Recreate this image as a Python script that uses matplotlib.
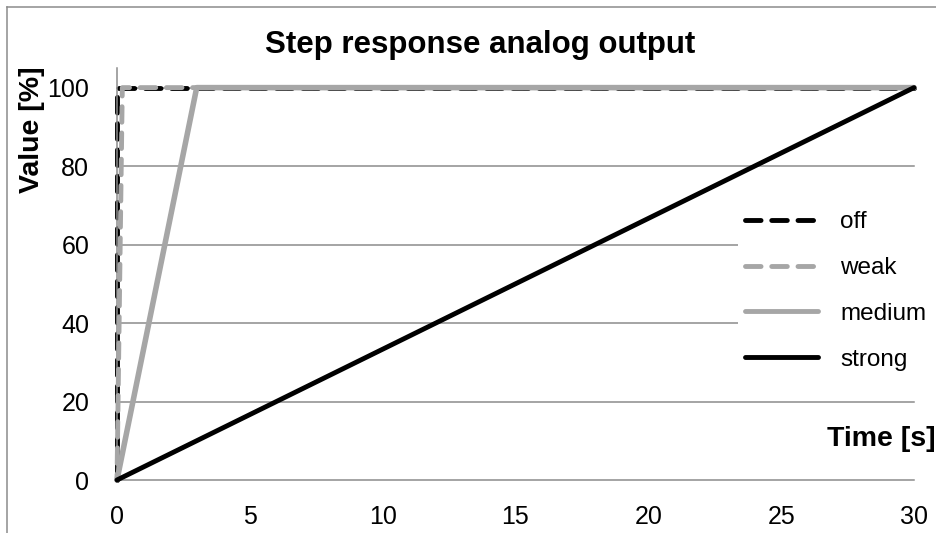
import matplotlib
matplotlib.use("Agg")
import matplotlib.pyplot as plt
from matplotlib.lines import Line2D

plt.rcParams['font.family'] = ['Liberation Sans', 'DejaVu Sans']

# Data
title = "Step response analog output"
x_label = "Time [s]"
y_label = "Value [%]"
series_names = ["off", "weak", "medium", "strong"]
off_t = [0, 0, 30]
off_v = [0, 100, 100]
weak_t = [0, 0.2, 30]
weak_v = [0, 100, 100]
medium_t = [0, 3, 30]
medium_v = [0, 100, 100]
strong_t = [0, 30]
strong_v = [0, 100]
x_ticks = [0, 5, 10, 15, 20, 25, 30]
y_ticks = [0, 20, 40, 60, 80, 100]

W, H = 937, 533
fig = plt.figure(figsize=(W / 100, H / 100), dpi=100)
ax = fig.add_axes([117 / W, 53 / H, (914 - 117) / W, (465 - 53) / H])

black = "#000000"
gray = "#A6A6A6"
grid_gray = "#8C8C8C"
lw = 3.5

for yv in y_ticks:
    ax.axhline(yv, color=grid_gray, lw=1.1, zorder=1, clip_on=False)

ax.plot(off_t, off_v, color=black, lw=lw, linestyle=(0, (3.2, 2.2)), dash_capstyle='round',
        label=series_names[0], zorder=2, clip_on=False)
ax.plot(weak_t, weak_v, color=gray, lw=lw, linestyle=(2.0, (3.2, 2.2)), dash_capstyle='round',
        label=series_names[1], zorder=3, clip_on=False)
ax.plot(medium_t, medium_v, color=gray, lw=4.0, solid_capstyle='round',
        label=series_names[2], zorder=4, clip_on=False)
ax.plot(strong_t, strong_v, color=black, lw=lw, solid_capstyle='round',
        label=series_names[3], zorder=5, clip_on=False)

ax.set_xlim(0, 30)
ax.set_ylim(0, 105)
ax.set_xticks(x_ticks)
ax.set_yticks(y_ticks)
ax.tick_params(axis='both', length=0, labelsize=18)
ax.tick_params(axis='x', pad=18)
ax.tick_params(axis='y', pad=20)
for s in ['top', 'right', 'bottom']:
    ax.spines[s].set_visible(False)
ax.spines['left'].set_color(grid_gray)
ax.spines['left'].set_linewidth(1.1)
ax.set_facecolor('none')

leg = ax.legend(loc='center left', bbox_to_anchor=(738 / W, 1 - 291 / H),
                bbox_transform=fig.transFigure, frameon=True, facecolor='white',
                edgecolor='none', framealpha=1, fontsize=17.5, handlelength=3.0,
                handletextpad=0.9, labelspacing=0.98, borderpad=0.3, borderaxespad=0)
leg.set_zorder(6)
# legend handles: same dash phase for both dashed entries
for h in leg.get_lines():
    h.set_linewidth(lw)
leg.get_lines()[1].set_linestyle((0, (3.2, 2.2)))

fig.text(480 / W, 1 - 45 / H, title, ha='center', va='center', fontsize=22.5,
         fontweight='bold')
fig.text(936 / W, 1 - 439 / H, x_label, ha='right', va='center', fontsize=20.5,
         fontweight='bold')
fig.text(32 / W, 1 - 130 / H, y_label, ha='center', va='center', fontsize=20.5,
         fontweight='bold', rotation=90)

# outer chart border
fig.add_artist(Line2D([7 / W, 7 / W], [0, 1 - 7 / H], transform=fig.transFigure,
                      color=grid_gray, lw=1.1))
fig.add_artist(Line2D([7 / W, 1], [1 - 7 / H, 1 - 7 / H], transform=fig.transFigure,
                      color=grid_gray, lw=1.1))

fig.savefig("out.png", dpi=100)
